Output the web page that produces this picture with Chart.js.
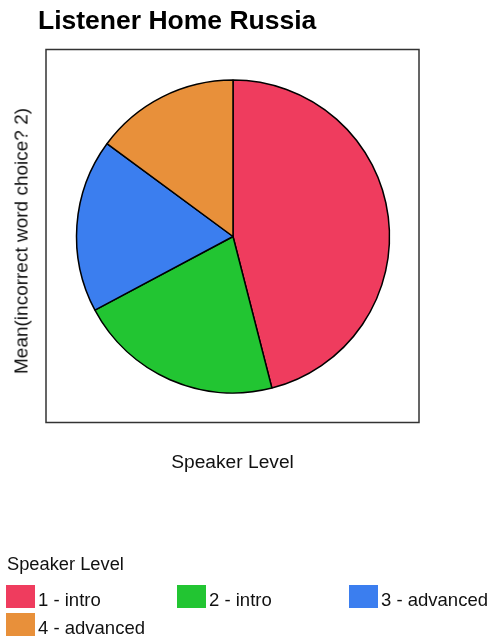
<!DOCTYPE html>
<html>
<head>
<meta charset="utf-8">
<script src="https://cdn.jsdelivr.net/npm/chart.js@4/dist/chart.umd.min.js"></script>
<style>
  html, body { margin: 0; padding: 0; background: #fff; }
  #wrap { position: relative; width: 498px; height: 639px; overflow: hidden; font-family: Arial, "Liberation Sans", sans-serif; color: #111; }
  #c { position: absolute; left: 0; top: 0; }
  .t { position: absolute; white-space: nowrap; line-height: 1; }
  #title { left: 38px; top: 7px; font-size: 26.5px; font-weight: bold; color: #000; }
  #xlab { left: 232.5px; top: 452px; font-size: 19.2px; transform: translateX(-50%); }
  #ylab { left: 21px; top: 241px; font-size: 19px; transform: translate(-50%, -50%) rotate(-90deg); }
  #ltitle { left: 7px; top: 555px; font-size: 18.3px; }
  .sw { position: absolute; width: 29px; height: 23px; }
  .lt { position: absolute; font-size: 18.5px; line-height: 1; white-space: nowrap; }
</style>
</head>
<body>
<div id="wrap">
  <canvas id="c" width="498" height="639"></canvas>
  <div class="t" id="title">Listener Home Russia</div>
  <div class="t" id="xlab">Speaker Level</div>
  <div class="t" id="ylab">Mean(incorrect word choice? 2)</div>
  <div class="t" id="ltitle">Speaker Level</div>
</div>
<script>
const categories = ["1 - intro", "2 - intro", "3 - advanced", "4 - advanced"];
const values = [46.0, 21.2, 17.9, 14.9];
const colors = ["#EF3C5E", "#22C532", "#3B7EEF", "#E8903A"];

const frame = {
  id: 'frame',
  beforeDraw(chart) {
    const ctx = chart.ctx;
    ctx.save();
    ctx.strokeStyle = '#333';
    ctx.lineWidth = 1.5;
    ctx.strokeRect(46, 49.5, 373, 373);
    ctx.restore();
  }
};

new Chart(document.getElementById('c'), {
  type: 'pie',
  data: {
    labels: categories,
    datasets: [{
      data: values,
      backgroundColor: colors,
      borderColor: '#000',
      borderWidth: 1.5
    }]
  },
  options: {
    responsive: false,
    animation: false,
    layout: { padding: { left: 75.75, right: 107.75, top: 79.25, bottom: 245.25 } },
    plugins: { legend: { display: false }, title: { display: false }, tooltip: { enabled: false } }
  },
  plugins: [frame]
});

// HTML legend built from the arrays
const wrap = document.getElementById('wrap');
const pos = [[6, 585], [177, 585], [349, 585], [6, 613]];
categories.forEach((c, i) => {
  const sw = document.createElement('div');
  sw.className = 'sw';
  sw.style.left = pos[i][0] + 'px';
  sw.style.top = pos[i][1] + 'px';
  sw.style.background = colors[i];
  wrap.appendChild(sw);
  const lt = document.createElement('div');
  lt.className = 'lt';
  lt.textContent = c;
  lt.style.left = (pos[i][0] + 32) + 'px';
  lt.style.top = (pos[i][1] + 5.5) + 'px';
  wrap.appendChild(lt);
});
</script>
</body>
</html>
